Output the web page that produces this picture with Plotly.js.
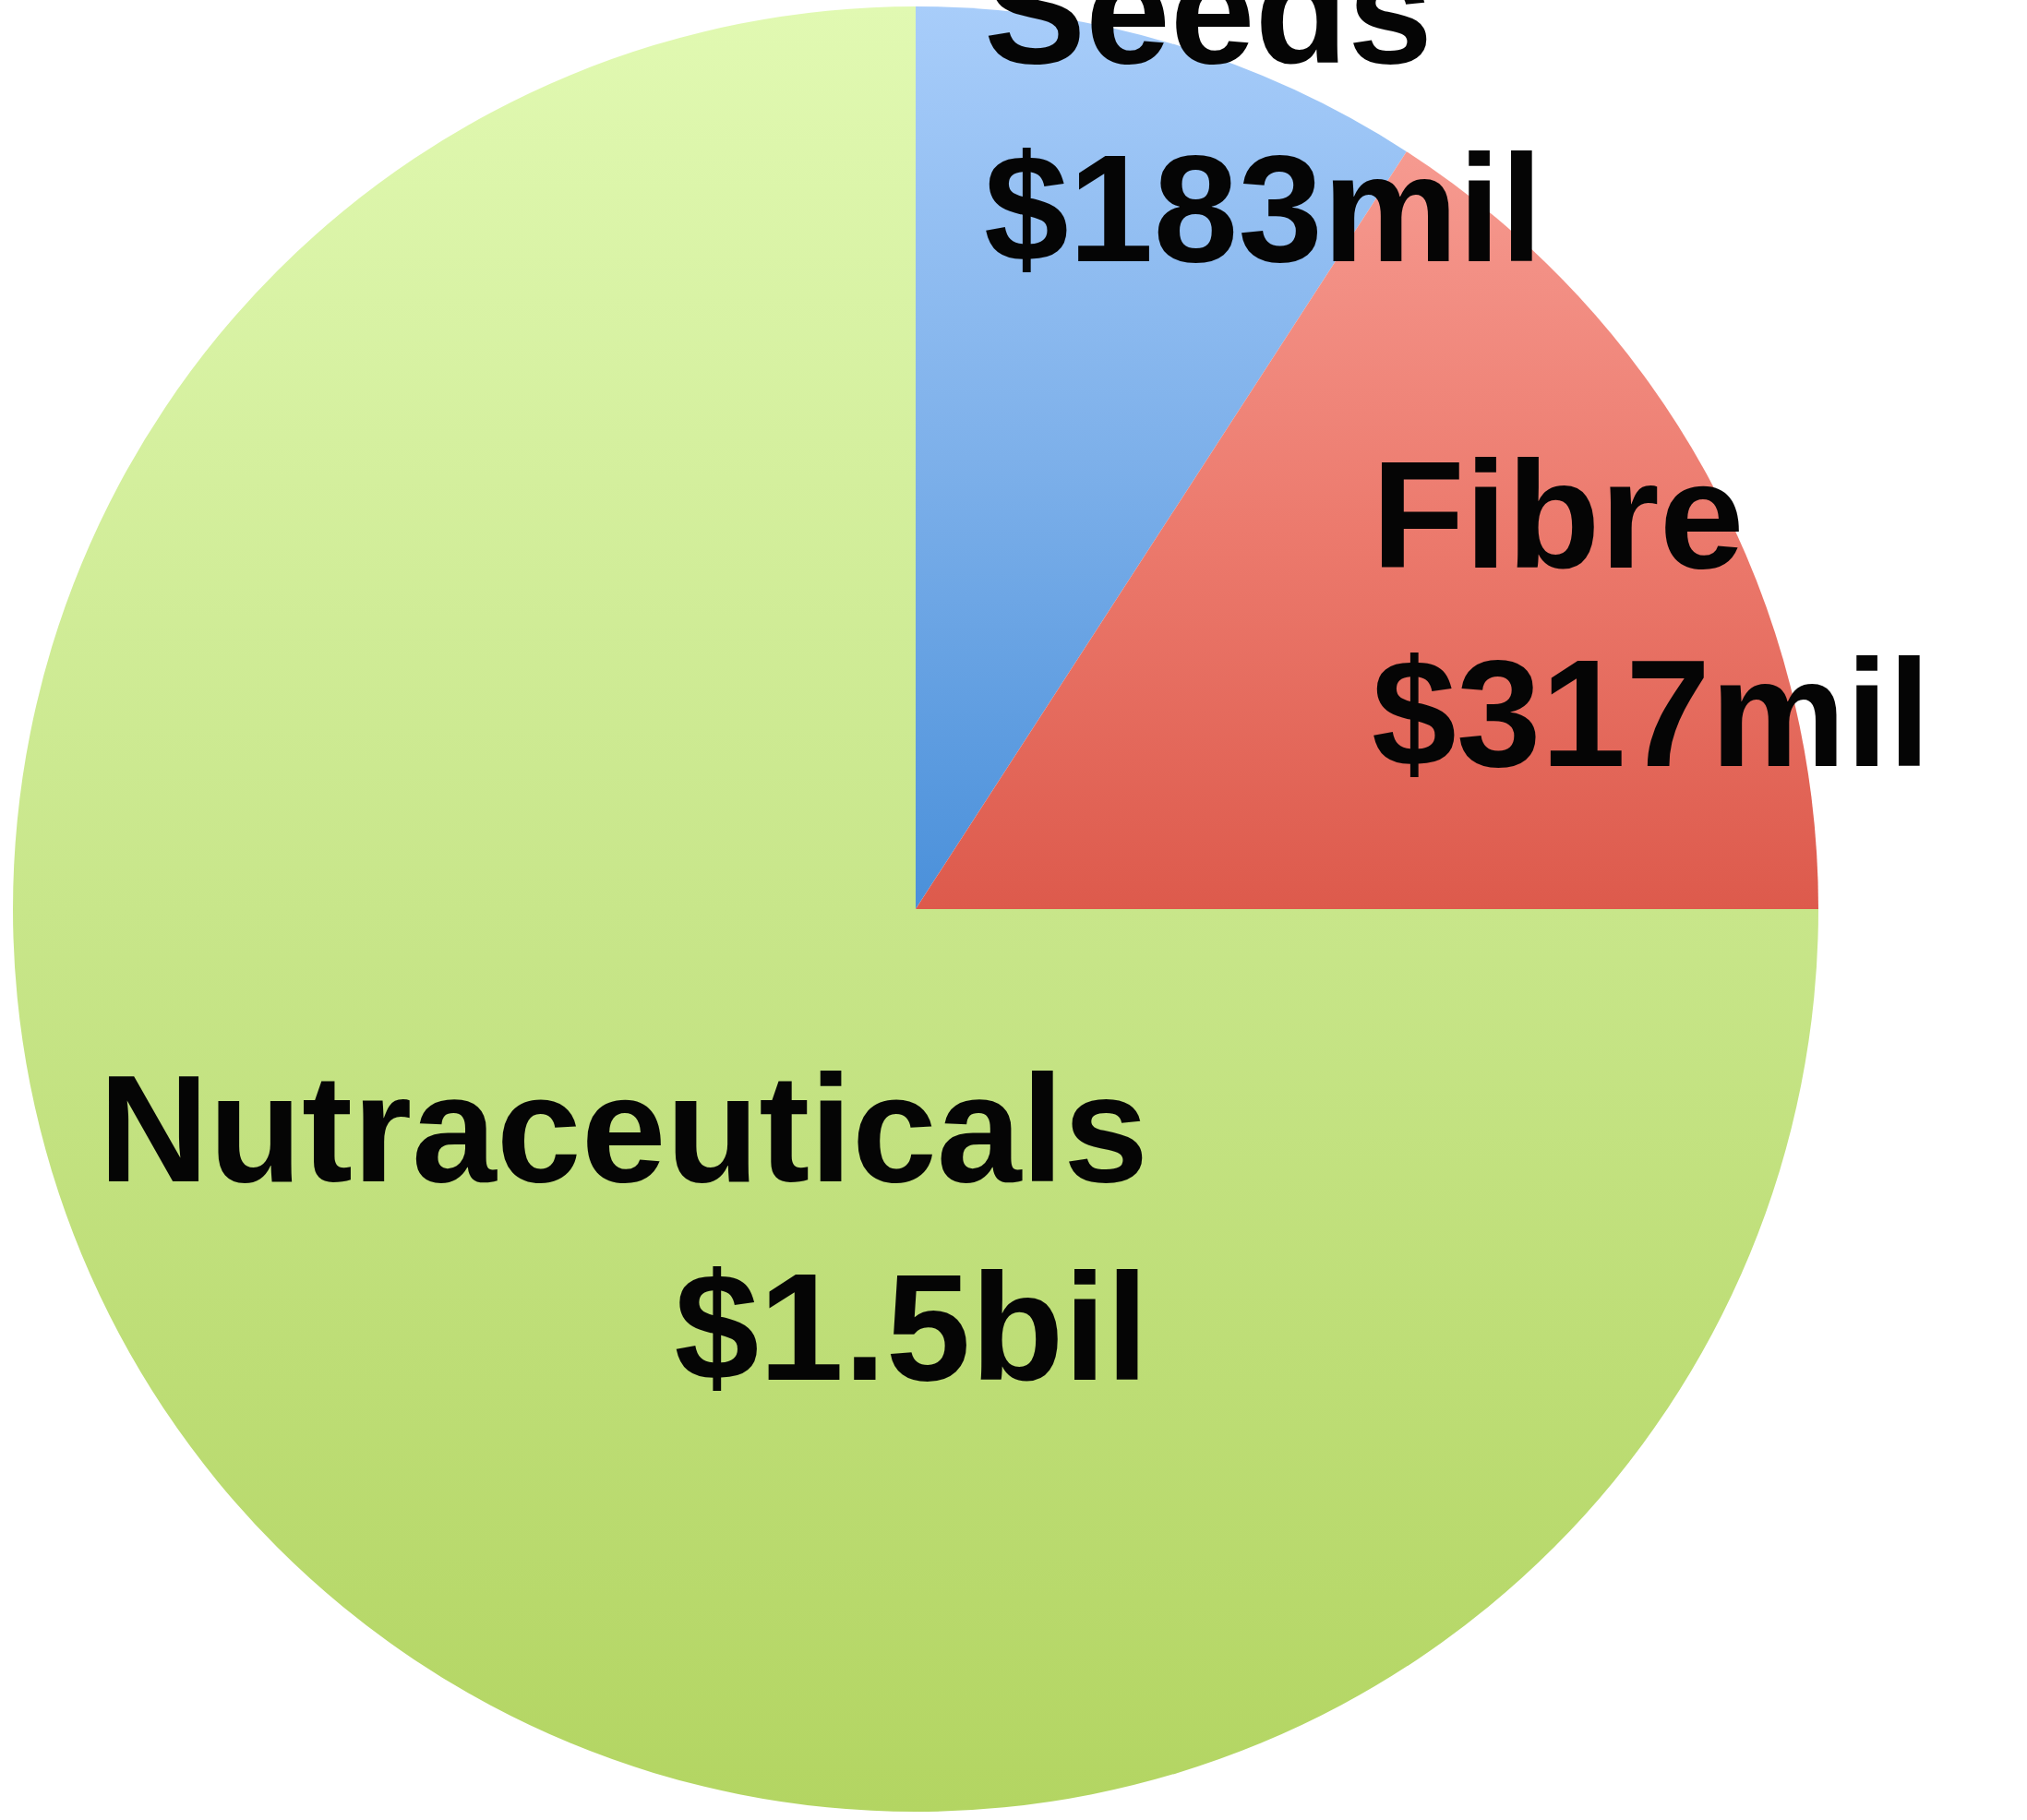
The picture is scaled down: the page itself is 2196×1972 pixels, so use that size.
<!DOCTYPE html>
<html>
<head>
<meta charset="utf-8">
<script src="https://cdn.plot.ly/plotly-3.0.1.min.js"></script>
<style>
html,body{margin:0;padding:0;background:#fff;}
#chart{width:2196px;height:1972px;}
</style>
</head>
<body>
<div id="chart"></div>
<script>
// Data
const categories = ["Seeds", "Fibre", "Nutraceuticals"];
const values = [183, 317, 1500];            // $ millions
const valueLabels = ["$183mil", "$317mil", "$1.5bil"];
const sliceColors = ["#80b2ec", "#eb7a6c", "#c9e78b"];
// vertical gradient (top, middle, bottom) for each slice
const gradTop = ["#a8cdfa", "#f69a90", "#e1f9b2"];
const gradMid = ["#7db0ea", "#ec7a6d", "#c8e68a"];
const gradBot = ["#4a90da", "#dd5a4c", "#b3d562"];

// Label placement (paper coords) and alignment
const labelX = [0.4845, 0.6758, 0.5674];
const labelY = [1 - 118/1972, 1 - 665/1972, 1 - 1330/1972];
const labelXAnchor = ["left", "left", "right"];

const W = 2196, H = 1972;
const cx = 992, cy = 985, r = 978;
const domX = [(cx - r)/W, (cx + r)/W];
const domY = [1 - (cy + r)/H, 1 - (cy - r)/H];

const trace = {
  type: "pie",
  labels: categories,
  values: values,
  sort: false,
  direction: "clockwise",
  rotation: 0,
  textinfo: "none",
  hoverinfo: "label+value",
  marker: {colors: sliceColors, line: {width: 0}},
  domain: {x: domX, y: domY},
  showlegend: false
};

const annotations = categories.map((c, i) => ({
  xref: "paper", yref: "paper",
  x: labelX[i], y: labelY[i],
  xanchor: labelXAnchor[i], yanchor: "middle",
  align: labelXAnchor[i],
  text: "<b>" + c + "<br>" + valueLabels[i] + "</b>",
  showarrow: false,
  font: {family: "Liberation Sans Narrow, Liberation Sans, Arial Narrow, sans-serif", size: 165, color: "#050505"}
}));

const layout = {
  width: W, height: H,
  margin: {l: 0, r: 0, t: 0, b: 0},
  paper_bgcolor: "#ffffff",
  plot_bgcolor: "#ffffff",
  annotations: annotations
};

function applyGradients() {
  const svg = document.querySelector("#chart .main-svg");
  if (!svg) return;
  const NS = "http://www.w3.org/2000/svg";
  let defs = svg.querySelector("defs#slicegrads");
  if (!defs) {
    defs = document.createElementNS(NS, "defs");
    defs.setAttribute("id", "slicegrads");
    svg.insertBefore(defs, svg.firstChild);
  }
  defs.innerHTML = "";
  categories.forEach((c, i) => {
    const g = document.createElementNS(NS, "linearGradient");
    g.setAttribute("id", "sg" + i);
    g.setAttribute("x1", "0"); g.setAttribute("y1", "0");
    g.setAttribute("x2", "0"); g.setAttribute("y2", "1");
    [[0, gradTop[i]], [0.5, gradMid[i]], [1, gradBot[i]]].forEach(([o, col]) => {
      const s = document.createElementNS(NS, "stop");
      s.setAttribute("offset", o);
      s.setAttribute("stop-color", col);
      g.appendChild(s);
    });
    defs.appendChild(g);
  });
  const paths = document.querySelectorAll("#chart .pielayer .slice path.surface");
  paths.forEach((p, i) => { p.style.fill = "url(#sg" + i + ")"; });
}

Plotly.newPlot("chart", [trace], layout, {staticPlot: true, displayModeBar: false}).then(applyGradients);
</script>
</body>
</html>
